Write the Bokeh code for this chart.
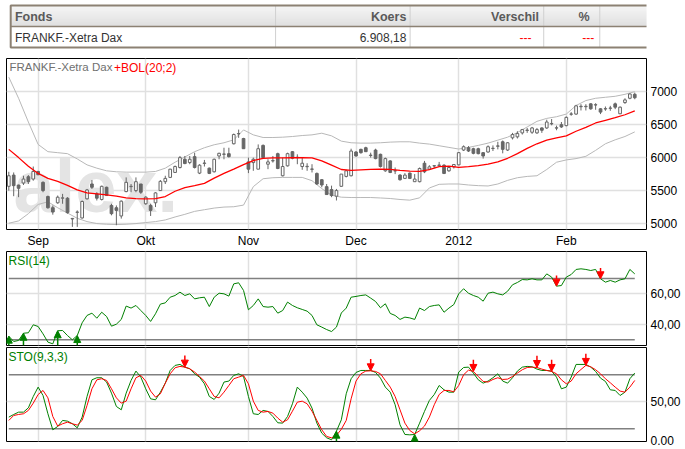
from bokeh.plotting import figure
from bokeh.models import (Range1d, FixedTicker, Grid, Label, Arrow, NormalHead,
                          ColumnDataSource)
from bokeh.layouts import column
from bokeh.core.properties import value
from bokeh.embed import file_html
from bokeh.resources import INLINE

FONT = "Liberation Sans"

# ---------------- data ----------------
table_headers = ["Fonds", "Koers", "Verschil", "%"]
table_row = ["FRANKF.-Xetra Dax", "6.908,18", "---", "---"]

month_idx = [6, 28, 49, 71, 92, 114]
month_labels = ["Sep", "Okt", "Nov", "Dec", "2012", "Feb"]

opens = [5565, 5735, 5585, 5615, 5710, 5675, 5790, 5625, 5410, 5240,
         5315, 5385, 5385, 5070, 5170, 5085, 5375, 5600, 5450, 5365,
         5550, 5275, 5240, 5115, 5485, 5560, 5500, 5600, 5300, 5275,
         5315, 5500, 5635, 5700, 5775, 5850, 5975, 5925, 6015, 5765,
         5912, 5840, 5785, 6025, 6050, 6060, 6210, 6360, 6290, 5935,
         5925, 5825, 6185, 5900, 5950, 6060, 5725, 5875, 6090, 6000,
         5865, 5862, 5822, 5760, 5665, 5560, 5515, 5415, 5565, 5715,
         5725, 6085, 6125, 6150, 6032, 6115, 6050, 5800, 5950, 5798,
         5735, 5685, 5765, 5635, 5635, 5915, 5825, 5872, 5882, 5885,
         5800, 5860, 5890, 6115, 6150, 6135, 6135, 6075, 6085, 6138,
         6172, 6240, 6115, 6300, 6315, 6375, 6412, 6385, 6375, 6450,
         6450, 6512, 6448, 6500, 6485, 6658, 6660, 6772, 6772, 6815,
         6798, 6740, 6738, 6748, 6815, 6665, 6835, 6900, 6960]
highs = [5785, 5775, 5590, 5725, 5735, 5865, 5800, 5640, 5425, 5275,
         5425, 5450, 5400, 5085, 5200, 5350, 5525, 5660, 5475, 5575,
         5560, 5300, 5275, 5350, 5700, 5600, 5700, 5600, 5415, 5300,
         5475, 5660, 5725, 5830, 5880, 6025, 6025, 6025, 6075, 5900,
         5965, 5850, 5985, 6075, 6150, 6150, 6365, 6425, 6300, 6000,
         6000, 6200, 6200, 5975, 6025, 6075, 6000, 6075, 6100, 6050,
         6000, 5915, 5900, 5775, 5675, 5600, 5575, 5525, 5750, 5815,
         6135, 6100, 6135, 6165, 6075, 6135, 6060, 6000, 5960, 5850,
         5750, 5765, 5775, 5750, 5850, 5950, 5885, 5885, 5935, 5900,
         5865, 5900, 6085, 6185, 6175, 6150, 6150, 6085, 6185, 6185,
         6240, 6260, 6235, 6375, 6400, 6435, 6450, 6465, 6450, 6460,
         6575, 6585, 6485, 6540, 6625, 6690, 6800, 6810, 6810, 6825,
         6825, 6750, 6775, 6785, 6835, 6775, 6900, 6975, 6985]
lows = [5500, 5415, 5400, 5585, 5600, 5650, 5735, 5475, 5225, 5135,
        5300, 5300, 5150, 4950, 4950, 5075, 5365, 5525, 5350, 5350,
        5420, 5125, 4975, 5075, 5475, 5475, 5475, 5450, 5285, 5115,
        5250, 5500, 5600, 5690, 5770, 5835, 5900, 5900, 5835, 5750,
        5865, 5750, 5775, 5975, 5975, 6000, 6200, 6300, 6135, 5765,
        5800, 5825, 5985, 5825, 5925, 5825, 5715, 5865, 5975, 5900,
        5815, 5800, 5775, 5585, 5550, 5435, 5400, 5350, 5560, 5700,
        5715, 6015, 6060, 6085, 6000, 5975, 5850, 5785, 5765, 5750,
        5650, 5675, 5675, 5635, 5625, 5765, 5815, 5840, 5865, 5750,
        5785, 5835, 5885, 6100, 6085, 6050, 6050, 5985, 6075, 6100,
        6125, 6065, 6100, 6275, 6290, 6350, 6375, 6360, 6360, 6375,
        6435, 6490, 6415, 6450, 6475, 6635, 6650, 6715, 6715, 6725,
        6725, 6660, 6710, 6710, 6735, 6660, 6815, 6885, 6885]
closes = [5725, 5575, 5535, 5675, 5635, 5790, 5740, 5500, 5240, 5175,
          5400, 5390, 5165, 5078, 5175, 5335, 5510, 5550, 5385, 5565,
          5425, 5150, 5200, 5340, 5625, 5565, 5635, 5475, 5400, 5200,
          5465, 5640, 5685, 5825, 5865, 6000, 5910, 5975, 5850, 5885,
          5918, 5760, 5975, 6065, 6055, 6015, 6350, 6365, 6135, 5825,
          5975, 6135, 6000, 5935, 5955, 5835, 5865, 6060, 5990, 6005,
          5915, 5868, 5828, 5600, 5585, 5440, 5425, 5500, 5750, 5800,
          6100, 6025, 6075, 6090, 6038, 5985, 5865, 5985, 5775, 5802,
          5665, 5735, 5685, 5675, 5835, 5785, 5860, 5878, 5888, 5760,
          5850, 5895, 6075, 6165, 6100, 6065, 6060, 6025, 6165, 6142,
          6178, 6125, 6225, 6350, 6365, 6425, 6418, 6450, 6425, 6415,
          6540, 6518, 6452, 6465, 6610, 6662, 6785, 6778, 6778, 6740,
          6802, 6690, 6742, 6752, 6765, 6765, 6875, 6965, 6908]

band_idx = list(range(0, 129, 2))
boll_upper = [7220, 6900, 6540, 6200, 6090, 6075, 6060, 5980, 5890, 5840,
              5800, 5785, 5780, 5780, 5780, 5790, 5840, 5930, 6010, 6090,
              6150, 6195, 6225, 6270, 6420, 6345, 6305, 6305, 6310, 6320,
              6335, 6345, 6370, 6330, 6250, 6225, 6220, 6220, 6225, 6235,
              6240, 6240, 6220, 6205, 6180, 6155, 6130, 6155, 6185, 6220,
              6265, 6310, 6380, 6465, 6550, 6595, 6620, 6660, 6790, 6865,
              6900, 6915, 6930, 6960, 7000]
boll_mid = [6125, 6000, 5870, 5760, 5685, 5640, 5580, 5510, 5465, 5450,
            5435, 5415, 5390, 5378, 5375, 5378, 5410, 5490, 5545, 5575,
            5610, 5690, 5760, 5825, 5895, 5955, 5988, 5995, 5995, 5998,
            6000, 5995, 5950, 5885, 5820, 5808, 5815, 5822, 5825, 5822,
            5808, 5795, 5792, 5818, 5862, 5870, 5852, 5862, 5878, 5900,
            5935, 5990, 6060, 6140, 6210, 6265, 6300, 6330, 6400, 6460,
            6525, 6565, 6605, 6650, 6710]
boll_lower = [5005, 5040, 5150, 5290, 5330, 5240, 5160, 5080, 5030, 5000,
              4990, 4985, 4990, 5000, 5015, 5030, 5055, 5100, 5140, 5185,
              5210, 5235, 5250, 5255, 5280, 5560, 5680, 5695, 5700, 5700,
              5700, 5650, 5530, 5430, 5400, 5395, 5395, 5395, 5388, 5380,
              5365, 5355, 5390, 5540, 5595, 5600, 5600, 5585, 5575, 5570,
              5600, 5655, 5695, 5715, 5725, 5820, 5930, 5965, 5985, 6020,
              6110, 6210, 6270, 6320, 6390]

rsi = [32.4, 28.9, 29.6, 34.3, 34.6, 39.8, 38.7, 33.9, 28.5, 27.4,
       35.9, 36.1, 32.8, 30.0, 32.8, 41.1, 45.9, 47.4, 44.1, 48.0,
       45.2, 38.9, 40.2, 43.3, 52.0, 50.7, 52.4, 49.1, 45.9, 42.0,
       47.0, 53.3, 54.1, 57.8, 58.9, 61.1, 58.9, 60.0, 56.7, 57.4,
       57.8, 51.7, 57.8, 60.4, 60.0, 58.5, 66.5, 67.2, 62.2, 49.6,
       52.4, 56.7, 51.7, 51.3, 51.7, 47.4, 49.1, 54.6, 52.4, 50.9,
       49.8, 48.7, 45.9, 39.8, 38.3, 36.7, 35.4, 38.3, 47.5, 50.7,
       57.8, 58.3, 58.9, 59.3, 57.2, 55.0, 50.9, 53.5, 47.2, 45.9,
       43.3, 44.8, 44.3, 43.3, 50.7, 49.1, 51.7, 52.4, 52.8, 48.0,
       50.7, 53.0, 60.0, 63.3, 60.4, 58.9, 57.8, 55.2, 60.4, 61.1,
       60.0, 59.3, 61.7, 65.9, 67.4, 69.3, 69.1, 69.8, 69.1, 69.1,
       73.0, 70.9, 65.0, 65.4, 70.9, 72.6, 75.9, 76.3, 75.9, 75.2,
       75.9, 69.8, 67.6, 68.7, 67.6, 69.1, 69.8, 75.9, 73.0]

sto_k = [33.0, 35.9, 38.5, 38.5, 43.3, 55.9, 66.3, 57.0, 36.7, 18.9,
         22.6, 29.3, 28.5, 25.6, 21.1, 33.0, 55.9, 74.4, 76.7, 76.7,
         71.9, 59.6, 44.8, 41.1, 59.6, 73.7, 84.1, 77.4, 64.4, 53.3,
         52.2, 60.7, 70.7, 84.8, 90.4, 91.5, 88.5, 86.7, 81.1, 77.4,
         70.0, 55.9, 52.6, 59.6, 71.9, 73.0, 79.3, 81.1, 78.1, 55.9,
         36.7, 35.9, 40.4, 39.3, 33.7, 26.7, 26.3, 33.7, 47.8, 66.3,
         60.7, 54.1, 43.0, 26.3, 15.2, 10.0, 7.8, 17.4, 30.0, 58.9,
         75.6, 82.6, 84.8, 84.8, 84.8, 82.6, 76.3, 66.3, 60.7, 46.7,
         24.4, 13.7, 13.3, 13.7, 26.3, 39.3, 51.5, 58.1, 68.1, 63.3,
         60.7, 60.7, 83.0, 88.1, 88.5, 81.9, 74.4, 70.7, 73.0, 76.7,
         81.1, 73.0, 70.7, 76.7, 84.1, 88.5, 89.3, 88.9, 86.3, 84.8,
         84.8, 84.1, 77.4, 64.4, 66.3, 77.4, 91.5, 91.5, 91.5, 88.5,
         83.7, 76.3, 72.6, 63.3, 62.6, 57.0, 60.7, 75.6, 81.9]
sto_d = [29.3, 34.8, 35.9, 36.7, 40.4, 48.5, 58.1, 62.6, 54.4, 33.7,
         23.0, 25.6, 27.4, 25.6, 24.1, 29.3, 45.9, 64.4, 74.4, 75.6,
         73.7, 64.4, 54.4, 48.5, 50.7, 64.4, 76.7, 79.3, 73.0, 61.9,
         55.2, 58.9, 70.7, 81.1, 87.8, 89.3, 88.5, 86.7, 83.0, 78.1,
         73.0, 64.4, 55.9, 54.4, 60.7, 68.1, 75.6, 77.4, 79.3, 70.0,
         50.7, 40.4, 38.5, 39.3, 37.4, 31.9, 27.4, 30.0, 39.6, 49.6,
         50.7, 47.8, 39.6, 29.3, 18.9, 11.5, 10.0, 12.6, 19.5, 29.3,
         53.3, 73.0, 81.1, 84.1, 84.4, 83.7, 81.1, 73.7, 66.3, 55.9,
         41.1, 26.3, 18.1, 14.4, 17.8, 23.0, 33.0, 46.7, 58.1, 62.6,
         62.6, 61.1, 68.1, 80.0, 85.2, 83.7, 78.1, 72.6, 71.9, 74.8,
         76.7, 74.8, 75.2, 78.1, 81.9, 85.6, 88.1, 88.5, 88.1, 86.3,
         84.8, 83.7, 81.1, 74.4, 70.0, 73.0, 81.1, 85.9, 90.4, 88.9,
         85.6, 81.1, 75.6, 71.1, 66.3, 61.9, 60.7, 66.3, 73.7]

rsi_buy_idx = [0, 3, 10, 14]
rsi_sell_idx = [112, 121]
sto_buy_idx = [67, 83]
sto_sell_idx = [36, 74, 95, 108, 111, 118]

price_ticks = [5000, 5500, 6000, 6500, 7000]
rsi_ticks = [40, 60]
rsi_tick_labels = ["40,00", "60,00"]
rsi_levels = [30, 70]
sto_ticks = [50, 7.5]
sto_tick_labels = ["50,00", "0.00"]
sto_grid = [50]
sto_levels = [20, 80]

# ---------------- geometry / style ----------------
W = 685
LEFT, RIGHT = 6, 39
FRAME_W = W - LEFT - RIGHT
X0, X1 = -0.47, 130.4
GRID_C = "#e0e0e0"
CANDLE_C = "#666666"
GREEN = "#008000"
RED = "#ff0000"

idx = list(range(len(closes)))


def px_to_x(px):
    return X0 + (px - LEFT) * (X1 - X0) / FRAME_W


def style(p, yticks, ygrid, overrides=None):
    p.xgrid.visible = False
    p.ygrid.visible = False
    p.outline_line_color = "black"
    p.outline_line_width = 1
    p.background_fill_color = "white"
    p.border_fill_color = "white"
    p.add_layout(Grid(dimension=0, ticker=FixedTicker(ticks=month_idx),
                      grid_line_color=GRID_C, grid_line_width=1.5))
    p.add_layout(Grid(dimension=1, ticker=FixedTicker(ticks=ygrid),
                      grid_line_color=GRID_C, grid_line_width=1.5))
    for ax in p.yaxis:
        ax.ticker = FixedTicker(ticks=yticks)
        if overrides:
            ax.major_label_overrides = overrides
        ax.axis_line_color = None
        ax.major_tick_line_color = None
        ax.minor_tick_line_color = None
        ax.major_tick_out = 0
        ax.major_tick_in = 0
        ax.major_label_standoff = 4
        ax.major_label_text_font = FONT
        ax.major_label_text_font_size = "12px"
        ax.major_label_text_color = "#000000"


# ---------------- header table ----------------
hdr = figure(width=W, height=52, x_range=Range1d(0, W), y_range=Range1d(52, 0),
             output_backend="svg", toolbar_location=None,
             x_axis_location=None, y_axis_location=None, min_border=0)
hdr.grid.visible = False
hdr.outline_line_color = None
g_top = [5 + k for k in range(21)]
g_col = ["#%02x%02x%02x" % ((int(0xf3 - (0xf3 - 0xd6) * k / 20),) * 3) for k in range(21)]
hdr.quad(left=4, right=720, top=g_top, bottom=[t + 1 for t in g_top],
         fill_color=g_col, line_color=None)
col_edges = [288, 432, 575, 635]
hdr.segment(x0=col_edges, y0=5, x1=col_edges, y1=47, line_color="#d0d0d0", line_width=1)
hdr.segment(x0=4, y0=26, x1=720, y1=26, line_color="#8c8173", line_width=1.5)
hdr.quad(left=4.5, right=720, top=5, bottom=47, fill_color=None,
         line_color="#8c8173", line_width=2)
hdr.text(x=[9], y=[16], text=table_headers[:1], text_align="left", text_baseline="middle",
         text_font=value(FONT), text_font_size="12.5px", text_font_style="bold",
         text_color="#5a5a5a")
hdr.text(x=[428, 570, 624], y=[16] * 3, text=table_headers[1:], text_align="right",
         text_baseline="middle", text_font=value(FONT), text_font_size="12.5px",
         text_font_style="bold", text_color="#5a5a5a")
hdr.text(x=[9], y=[37], text=table_row[:1], text_align="left", text_baseline="middle",
         text_font=value(FONT), text_font_size="12px", text_color="#333333")
hdr.text(x=[428], y=[37], text=table_row[1:2], text_align="right", text_baseline="middle",
         text_font=value(FONT), text_font_size="12px", text_color="#333333")
hdr.text(x=[562, 629], y=[37, 37], text=table_row[2:], text_align="right",
         text_baseline="middle", text_font=value(FONT), text_font_size="12px",
         text_color=RED)

# ---------------- main chart ----------------
PY0, PY1 = 4910, 7503
main = figure(width=W, height=198, x_range=Range1d(X0, X1), y_range=Range1d(PY0, PY1),
              output_backend="svg", toolbar_location=None, y_axis_location="right",
              min_border_left=LEFT, min_border_right=RIGHT, min_border_top=6,
              min_border_bottom=19)
style(main, price_ticks, price_ticks)
xa = main.xaxis[0]
xa.ticker = FixedTicker(ticks=month_idx)
xa.major_label_overrides = dict(zip(month_idx, month_labels))
xa.axis_line_color = None
xa.major_tick_line_color = None
xa.minor_tick_line_color = None
xa.major_tick_out = 0
xa.major_tick_in = 0
xa.major_label_standoff = 4
xa.major_label_text_font = FONT
xa.major_label_text_font_size = "12px"
xa.major_label_text_color = "#000000"

main_h = 173.0
def main_y(px):
    return PY0 + (231 - px) * (PY1 - PY0) / main_h

# watermark (page pixel position of its top edge)
main.text(x=[px_to_x(13)], y=[main_y(146)], text=["alex."], text_font=value(FONT),
          text_font_size="74px", text_font_style="bold", text_color="#e4e4e4",
          text_baseline="top")

main.line(band_idx, boll_upper, line_color="#b8b8b8", line_width=1)
main.line(band_idx, boll_lower, line_color="#b8b8b8", line_width=1)

src = ColumnDataSource(dict(
    x=idx, high=highs, low=lows,
    top=[max(o, c) for o, c in zip(opens, closes)],
    bottom=[min(o, c) for o, c in zip(opens, closes)],
    fill=["white" if c >= o else CANDLE_C for o, c in zip(opens, closes)],
))
main.segment(x0="x", y0="low", x1="x", y1="high", line_color=CANDLE_C, line_width=1, source=src)
main.vbar(x="x", width=0.55, top="top", bottom="bottom", fill_color="fill",
          line_color=CANDLE_C, line_width=1, source=src)
main.line(band_idx, boll_mid, line_color=RED, line_width=1.3)

main.add_layout(Label(x=px_to_x(9), y=main_y(61), text="FRANKF.-Xetra Dax",
                      text_font=FONT, text_font_size="11.5px", text_color="#707070",
                      text_baseline="top"))
main.add_layout(Label(x=px_to_x(113.5), y=main_y(61), text="+BOL(20;2)",
                      text_font=FONT, text_font_size="12px", text_color=RED,
                      text_baseline="top"))

# ---------------- RSI ----------------
RY0, RY1 = 26.3, 87.6
rsi_fig = figure(width=W, height=96, x_range=main.x_range, y_range=Range1d(RY0, RY1),
                 output_backend="svg", toolbar_location=None, y_axis_location="right",
                 x_axis_location=None, min_border_left=LEFT, min_border_right=RIGHT,
                 min_border_top=1, min_border_bottom=1)
style(rsi_fig, rsi_ticks, rsi_ticks, dict(zip(rsi_ticks, rsi_tick_labels)))
rsi_fig.segment(x0=idx[0], x1=idx[-1], y0=rsi_levels, y1=rsi_levels,
                line_color="#808080", line_width=1.5)
rsi_fig.line(idx, rsi, line_color=GREEN, line_width=1)

def rsi_y(px):
    return RY0 + (345 - px) * (RY1 - RY0) / 94.0

rsi_fig.add_layout(Label(x=px_to_x(8), y=rsi_y(253.5), text="RSI(14)", text_font=FONT,
                         text_font_size="12px", text_color=GREEN, text_baseline="top"))
rb = ColumnDataSource(dict(x=rsi_buy_idx, y0=[RY0] * len(rsi_buy_idx),
                           y1=[rsi[i] for i in rsi_buy_idx]))
rsi_fig.add_layout(Arrow(end=NormalHead(size=7, fill_color=GREEN, line_color=GREEN),
                         x_start="x", y_start="y0", x_end="x", y_end="y1", source=rb,
                         line_color=GREEN, line_width=1.5))
rs = ColumnDataSource(dict(x=rsi_sell_idx, y0=[rsi[i] + 7 for i in rsi_sell_idx],
                           y1=[rsi[i] for i in rsi_sell_idx]))
rsi_fig.add_layout(Arrow(end=NormalHead(size=7, fill_color=RED, line_color=RED),
                         x_start="x", y_start="y0", x_end="x", y_end="y1", source=rs,
                         line_color=RED, line_width=1.5))

# ---------------- STO ----------------
SY0, SY1 = 5.9, 110.3
sto_fig = figure(width=W, height=102, x_range=main.x_range, y_range=Range1d(SY0, SY1),
                 output_backend="svg", toolbar_location=None, y_axis_location="right",
                 x_axis_location=None, min_border_left=LEFT, min_border_right=RIGHT,
                 min_border_top=1, min_border_bottom=7)
style(sto_fig, sto_ticks, sto_grid, dict(zip(sto_ticks, sto_tick_labels)))
sto_fig.segment(x0=idx[0], x1=idx[-1], y0=sto_levels, y1=sto_levels,
                line_color="#808080", line_width=1.5)
sto_fig.line(idx, sto_k, line_color=GREEN, line_width=1)
sto_fig.line(idx, sto_d, line_color=RED, line_width=1)

def sto_y(px):
    return SY0 + (441 - px) * (SY1 - SY0) / 94.0

sto_fig.add_layout(Label(x=px_to_x(8), y=sto_y(349.5), text="STO(9,3,3)", text_font=FONT,
                         text_font_size="12px", text_color=GREEN, text_baseline="top"))
sb = ColumnDataSource(dict(x=sto_buy_idx, y0=[SY0] * len(sto_buy_idx),
                           y1=[sto_k[i] for i in sto_buy_idx]))
sto_fig.add_layout(Arrow(end=NormalHead(size=7, fill_color=GREEN, line_color=GREEN),
                         x_start="x", y_start="y0", x_end="x", y_end="y1", source=sb,
                         line_color=GREEN, line_width=1.5))
ss = ColumnDataSource(dict(x=sto_sell_idx, y0=[sto_d[i] + 13 for i in sto_sell_idx],
                           y1=[sto_d[i] for i in sto_sell_idx]))
sto_fig.add_layout(Arrow(end=NormalHead(size=7, fill_color=RED, line_color=RED),
                         x_start="x", y_start="y0", x_end="x", y_end="y1", source=ss,
                         line_color=RED, line_width=1.5))

p = column(hdr, main, rsi_fig, sto_fig, spacing=0, margin=(0, 0, 0, 0))

open("out.html", "w").write(file_html(p, INLINE))
